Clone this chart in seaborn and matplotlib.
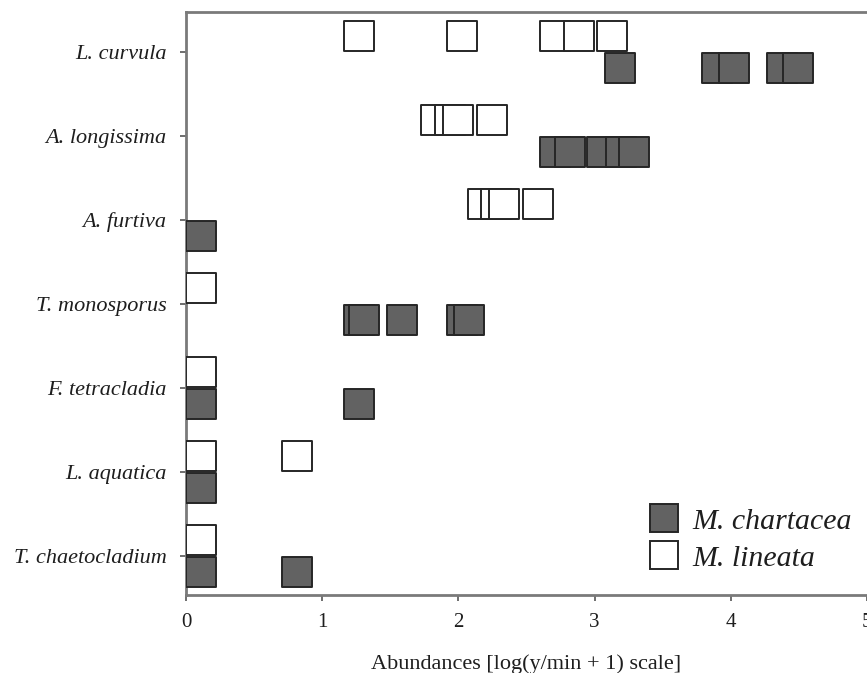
import numpy as np
import pandas as pd
import matplotlib
matplotlib.use("Agg")
import matplotlib.pyplot as plt
from matplotlib.lines import Line2D
import seaborn as sns

# ---- data (left-edge abundance values) ----
categories = ["L. curvula", "A. longissima", "A. furtiva", "T. monosporus",
              "F. tetracladia", "L. aquatica", "T. chaetocladium"]

chartacea = {
    "L. curvula":       [3.08, 3.79, 3.92, 4.27, 4.39],
    "A. longissima":    [2.60, 2.71, 2.95, 3.09, 3.18],
    "A. furtiva":       [0.0],
    "T. monosporus":    [1.16, 1.20, 1.48, 1.92, 1.97],
    "F. tetracladia":   [0.0, 1.16],
    "L. aquatica":      [0.0],
    "T. chaetocladium": [0.0, 0.71],
}
lineata = {
    "L. curvula":       [1.16, 1.92, 2.60, 2.78, 3.02],
    "A. longissima":    [1.73, 1.83, 1.89, 2.14],
    "A. furtiva":       [2.07, 2.17, 2.23, 2.48],
    "T. monosporus":    [0.0],
    "F. tetracladia":   [0.0],
    "L. aquatica":      [0.0, 0.71],
    "T. chaetocladium": [0.0],
}
species = ["M. chartacea", "M. lineata"]
xticks = [0, 1, 2, 3, 4, 5]
xlabel = "Abundances [log(y/min + 1) scale]"

# ---- style ----
sns.set_theme(style="white")
plt.rcParams["font.family"] = ["Liberation Serif", "DejaVu Serif"]

fill = {"M. chartacea": "#626262", "M. lineata": "#ffffff"}
edge = "#262626"
txt = "#1e1e1e"
half_w = 0.107      # half a square width in x data units
y_off = {"M. chartacea": -0.185, "M. lineata": 0.185}

n = len(categories)
rows = []
for sp, dct in zip(species, [chartacea, lineata]):
    for i, cat in enumerate(categories):
        ypos = (n - 1 - i) + y_off[sp]
        for v in sorted(dct[cat]):
            rows.append({"species": sp, "category": cat, "value": v,
                         "xc": v + half_w, "yc": ypos})
df = pd.DataFrame(rows)

fig = plt.figure(figsize=(8.67, 6.73), dpi=100)
ax = fig.add_axes([186 / 867, 1 - 595 / 673, 1 - 186 / 867, (595 - 12) / 673])

for sp in species:
    sub = df[df["species"] == sp]
    sns.scatterplot(data=sub, x="xc", y="yc", marker="s", s=455,
                    color=fill[sp], edgecolor=edge, linewidth=1.4,
                    legend=False, ax=ax, zorder=3)

ax.set_xlim(0, 5.0)
ax.set_ylim(-0.464, n - 1 + 0.476)
ax.set_yticks(range(n))
ax.set_yticklabels(categories[::-1], fontstyle="italic", fontsize=16, color=txt)
ax.set_xticks(xticks)
ax.set_xticklabels([str(t) for t in xticks], fontsize=15, color=txt)
ax.set_xlabel(xlabel, fontsize=16, color=txt, labelpad=16)
ax.set_ylabel("")

for side in ["left", "bottom", "top"]:
    ax.spines[side].set_color("#7a7a7a")
    ax.spines[side].set_linewidth(2.0)
    ax.spines[side].set_visible(True)
ax.spines["right"].set_visible(False)
ax.tick_params(axis="both", direction="out", length=4, width=1.2, color="#555555",
               left=True, bottom=True)
ax.tick_params(axis="y", pad=10)
ax.tick_params(axis="x", pad=9)

handles = [Line2D([], [], marker="s", linestyle="none", markersize=20,
                  markerfacecolor=fill[sp], markeredgecolor=edge, markeredgewidth=1.4)
           for sp in species]
leg = ax.legend(handles, species, loc="upper left",
                bbox_to_anchor=(649 / 867, 1 - 508 / 673), bbox_transform=fig.transFigure,
                frameon=False, prop={"family": "Liberation Serif", "style": "italic", "size": 21.5},
                handlelength=1.0, handletextpad=0.45, labelspacing=0.33, borderpad=0,
                borderaxespad=0)
for t in leg.get_texts():
    t.set_color(txt)

fig.savefig("out.png", dpi=100)
